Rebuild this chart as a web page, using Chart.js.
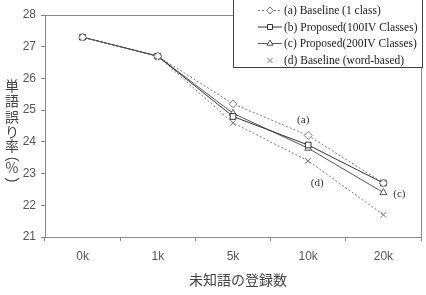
<!DOCTYPE html>
<html><head><meta charset="utf-8">
<script src="https://cdn.jsdelivr.net/npm/chart.js@4"></script>
<style>html,body{margin:0;padding:0;background:#fff}#wrap{width:426px;height:295px}</style>
</head><body><div id="wrap"><canvas id="c" width="426" height="295"></canvas></div>
<script>
const categories = ['0k', '1k', '5k', '10k', '20k'];
const seriesA = [27.3, 26.7, 25.2, 24.2, 22.7];
const seriesB = [27.3, 26.7, 24.8, 23.9, 22.7];
const seriesC = [27.3, 26.7, 24.9, 23.8, 22.4];
const seriesD = [27.3, 26.7, 24.6, 23.4, 21.7];
const seriesNames = ['(a) Baseline (1 class)', '(b) Proposed(100IV Classes)', '(c) Proposed(200IV Classes)', '(d) Baseline (word-based)'];
const yTicks = [21, 22, 23, 24, 25, 26, 27, 28];
const yTitle = ['単', '語', '誤', 'り', '率', '(', '%', ')'];
const xTitle = '未知語の登録数';
const notes = [{t: '(a)', i: 3, v: 24.7, dx: -5}, {t: '(d)', i: 3, v: 22.7, dx: 9}, {t: '(c)', i: 4, v: 22.35, dx: 16}];

const styles = [
  {color: '#777', dash: [2, 2], point: 'rectRot'},
  {color: '#333', dash: [], point: 'rect'},
  {color: '#555', dash: [], point: 'triangle'},
  {color: '#777', dash: [2, 2], point: 'crossRot'}
];
const dataArr = [seriesA, seriesB, seriesC, seriesD];

const datasets = dataArr.map((d, k) => ({
  label: seriesNames[k], data: d,
  borderColor: styles[k].color, borderWidth: 1, borderDash: styles[k].dash,
  pointStyle: styles[k].point, pointRadius: 4, pointBorderColor: styles[k].color,
  pointBackgroundColor: '#fff', pointBorderWidth: 1, fill: false, tension: 0
}));

const decor = {
  id: 'decor',
  beforeDatasetsDraw(chart) {
    const {ctx, chartArea: a} = chart;
    ctx.save(); ctx.strokeStyle = '#888'; ctx.lineWidth = 1;
    ctx.beginPath(); ctx.moveTo(a.left, a.top + 0.5); ctx.lineTo(a.right + 0.5, a.top + 0.5); ctx.lineTo(a.right + 0.5, a.bottom); ctx.stroke();
    ctx.restore();
  },
  afterDraw(chart) {
    const {ctx} = chart;
    const xs = chart.scales.x, ys = chart.scales.y;
    ctx.save();
    // y title (vertical stacked)
    ctx.fillStyle = '#444'; ctx.textAlign = 'center'; ctx.textBaseline = 'middle';
    const yPos = [86, 101, 117, 132, 146, 159, 168, 180];
    yTitle.forEach((ch, i) => {
      if (ch === '(' || ch === ')') {
        ctx.save(); ctx.font = '14px "Liberation Sans"';
        ctx.translate(12, yPos[i]); ctx.rotate(Math.PI / 2);
        ctx.fillText(ch, 0, 0); ctx.restore();
      } else { ctx.font = '14px "Noto Sans CJK JP"'; ctx.fillText(ch, 12, yPos[i]); }
    });
    // x title
    ctx.font = '14px "Noto Sans CJK JP"';
    ctx.fillText(xTitle, 238, 280);
    // annotations
    ctx.fillStyle = '#333'; ctx.font = '11px "Liberation Serif"';
    notes.forEach(n => ctx.fillText(n.t, xs.getPixelForValue(n.i) + n.dx, ys.getPixelForValue(n.v)));
    // legend
    ctx.fillStyle = '#fff'; ctx.fillRect(233, -1, 189, 68);
    ctx.strokeStyle = '#444'; ctx.lineWidth = 1; ctx.strokeRect(233.5, -0.5, 189, 68);
    const rows = [10, 26.5, 43, 60];
    chart.data.datasets.forEach((ds, k) => {
      const y = rows[k];
      ctx.strokeStyle = ds.borderColor; ctx.setLineDash(ds.borderDash);
      if (k < 3) { ctx.beginPath(); ctx.moveTo(258, y + 0.5); ctx.lineTo(282, y + 0.5); ctx.stroke(); }
      ctx.setLineDash([]);
      ctx.fillStyle = '#fff'; ctx.strokeStyle = ds.borderColor; ctx.lineWidth = 1;
      Chart.helpers.drawPoint(ctx, {pointStyle: ds.pointStyle, radius: 3.5, rotation: 0, borderWidth: 1}, 270, y + 0.5);
      ctx.fillStyle = '#222'; ctx.font = '11.5px "Liberation Serif"'; ctx.textAlign = 'left';
      ctx.fillText(ds.label, 284, y + 1);
    });
    ctx.restore();
  }
};

new Chart(document.getElementById('c'), {
  type: 'line',
  data: {labels: categories, datasets},
  options: {
    responsive: false, animation: false, devicePixelRatio: 1,
    layout: {padding: {top: 15, right: 4, left: 0, bottom: 0}},
    plugins: {legend: {display: false}, tooltip: {enabled: false}},
    scales: {
      x: {
        offset: true,
        grid: {offset: true, drawOnChartArea: false, drawTicks: true, tickLength: 4, color: '#888'},
        border: {color: '#888'},
        ticks: {color: '#555', font: {family: 'Liberation Sans', size: 12}, padding: 8},
        afterFit(s) { s.height = 58; }
      },
      y: {
        min: 21, max: 28,
        afterBuildTicks(s) { s.ticks = yTicks.map(v => ({value: v})); },
        grid: {drawOnChartArea: false, drawTicks: true, tickLength: 4, color: '#888'},
        border: {color: '#888'},
        ticks: {color: '#555', font: {family: 'Liberation Sans', size: 12}, padding: 5},
        afterFit(s) { s.width = 45; }
      }
    }
  },
  plugins: [decor]
});
</script></body></html>
